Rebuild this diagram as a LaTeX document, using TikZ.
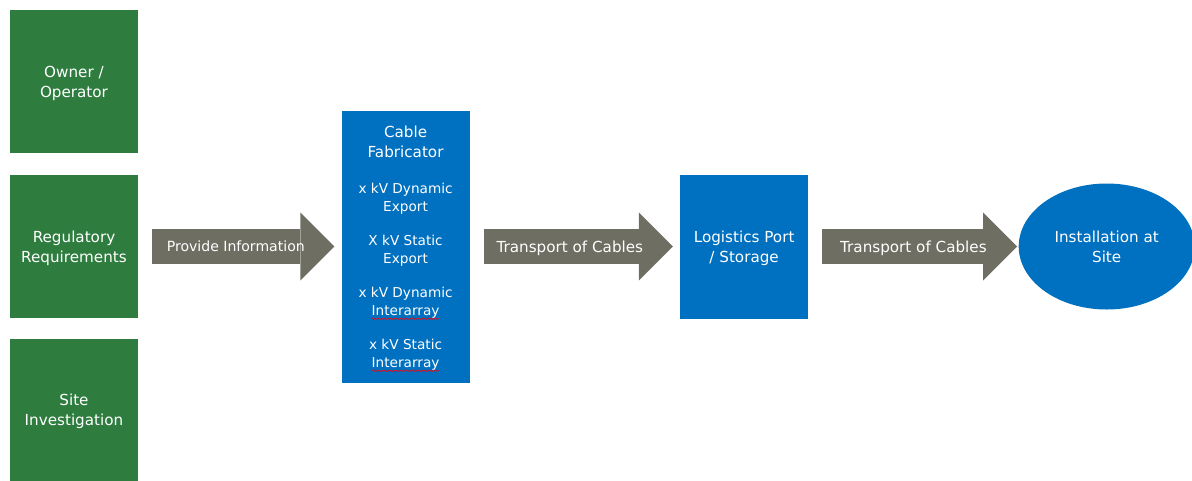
\documentclass[tikz,border=0pt]{standalone}
\usepackage{fontspec}
\setsansfont{DejaVu Sans}
\usetikzlibrary{positioning,shapes.geometric,arrows.meta,decorations.pathmorphing}

\definecolor{partyGreen}{RGB}{46,125,63}
\definecolor{stageBlue}{RGB}{0,112,192}
\definecolor{flowGrey}{RGB}{111,110,98}

\newcommand{\bigtext}{\fontsize{10.8}{14.2}\selectfont}
\newcommand{\smalltext}{\fontsize{9.7}{12.8}\selectfont}

\begin{document}
\begin{tikzpicture}[font=\sffamily ,
partyBox/.style={rectangle, fill=partyGreen, text=white, minimum width=3.2cm, minimum height=3.575cm, align=center, text depth=0pt, font=\sffamily\bigtext} ,
stageBox/.style={partyBox, fill=stageBlue, minimum height=3.6cm} ,
flowArrow/.style={draw=flowGrey, line width=0.875cm, -{Triangle[length=0.85cm, width=1.7cm, line width=0pt]}, shorten <=0.35cm, shorten >=0.175cm} ,
flowLabel/.style={text=white, text depth=0pt, font=\sffamily\bigtext} ,
spellWave/.style={red, line width=0.4pt, decorate, decoration={snake, amplitude=0.5pt, segment length=2.2pt}}
]
\useasboundingbox (0,0) rectangle (29.8,-12) ;

\node [partyBox] (regulatory) at (1.85,-6.1625) {Regulatory\\Requirements} ;
\node [partyBox] (owner) [above=0.525cm of regulatory] {Owner /\\Operator} ;
\node [partyBox] (site) [below=0.5cm of regulatory] {Site\\Investigation} ;

\node [stageBox, minimum height=6.8cm, font=\sffamily\smalltext] (fabricator) [right=5.075cm of regulatory] {{\bigtext Cable}\\[1.4pt] {\bigtext Fabricator}\\[12.8pt] x kV Dynamic\\ Export\\[11.4pt] X kV Static\\ Export\\[11.4pt] x kV Dynamic\\ Interarray\\[11.4pt] x kV Static\\ Interarray} ;
% red marks under the two Interarray words
\draw [spellWave] ([xshift=-0.85cm, yshift=1.6cm]fabricator.south) -- ++(1.7cm,0) ;
\draw [spellWave] ([xshift=-0.85cm, yshift=0.3cm]fabricator.south) -- ++(1.7cm,0) ;

\node [stageBox] (logistics) [right=5.25cm of fabricator] {Logistics Port\\/ Storage} ;
\node [ellipse, fill=stageBlue, text=white, minimum width=4.4cm, minimum height=3.15cm, inner sep=0pt, align=center, text depth=0pt, font=\sffamily\bigtext] (installation) [right=5.25cm of logistics] {Installation at\\Site} ;

\draw [flowArrow] (regulatory) -- node [flowLabel, font=\sffamily\fontsize{10}{13}\selectfont, xshift=-0.1cm] {Provide Information} (fabricator) ;
\draw [flowArrow] (fabricator) -- node [flowLabel, xshift=-0.125cm] {Transport of Cables} (logistics) ;
\draw [flowArrow, shorten >=0.03cm] (logistics) -- node [flowLabel] {Transport of Cables} (installation) ;
\end{tikzpicture}
\end{document}
